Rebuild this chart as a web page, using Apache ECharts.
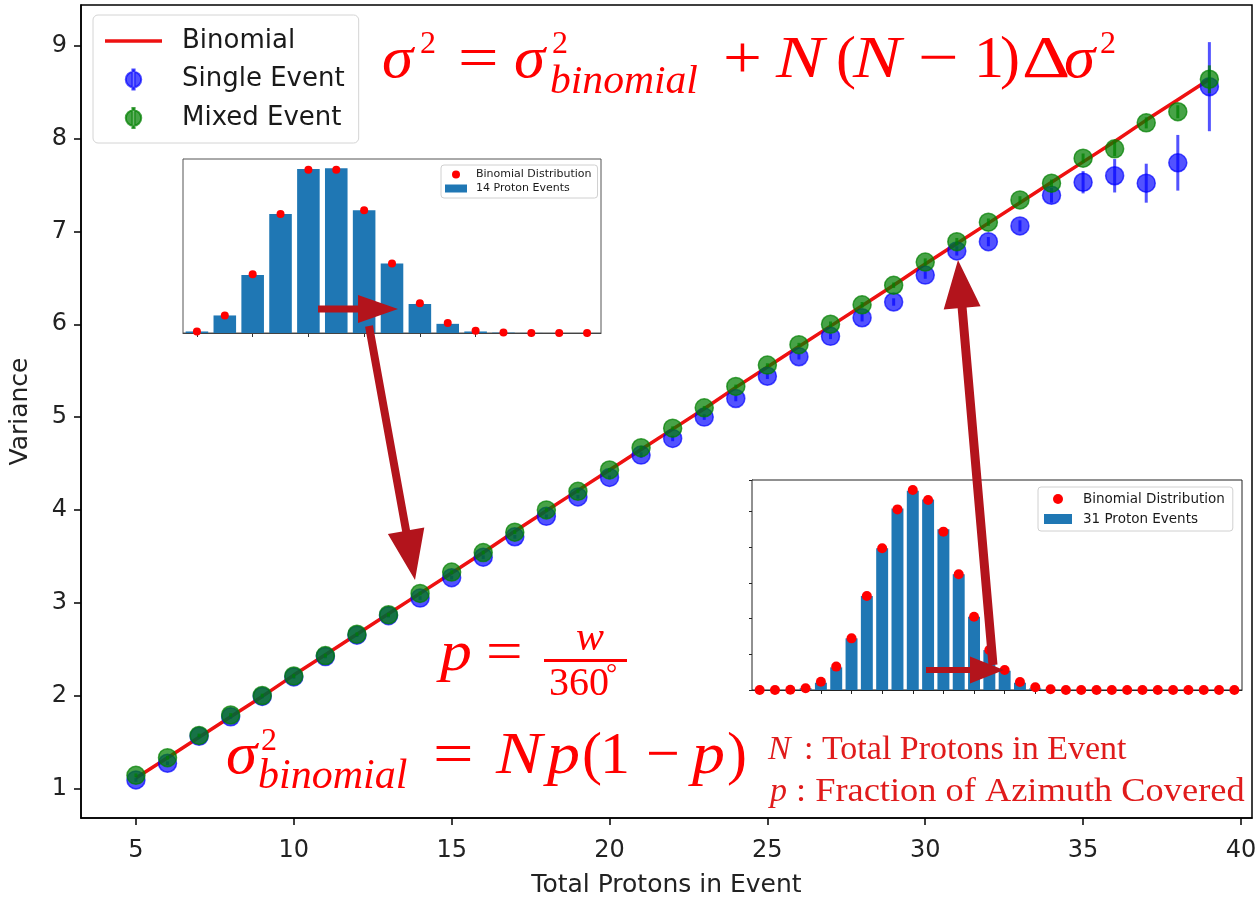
<!DOCTYPE html>
<html><head><meta charset="utf-8">
<script src="https://cdn.jsdelivr.net/npm/echarts@6/dist/echarts.min.js"></script>
<style>html,body{margin:0;padding:0;background:#fff}#c{width:1258px;height:901px}</style>
</head><body><div id="c"></div>
<script>
// ---------- data ----------
const protons = [5,6,7,8,9,10,11,12,13,14,15,16,17,18,19,20,21,22,23,24,25,26,27,28,29,30,31,32,33,34,35,36,37,38,39];
const binomialVar = [1.11,1.33,1.55,1.77,1.99,2.22,2.44,2.66,2.88,3.10,3.32,3.54,3.77,3.99,4.21,4.43,4.65,4.87,5.09,5.32,5.54,5.76,5.98,6.20,6.42,6.65,6.87,7.09,7.31,7.53,7.75,7.97,8.20,8.42,8.64];
const singleVar = [1.09,1.27,1.56,1.77,1.99,2.20,2.42,2.65,2.86,3.05,3.27,3.49,3.71,3.93,4.14,4.35,4.59,4.77,5.00,5.20,5.44,5.65,5.87,6.07,6.24,6.53,6.79,6.89,7.06,7.39,7.53,7.60,7.52,7.74,8.56];
const singleErr = [0.02,0.02,0.02,0.02,0.02,0.02,0.02,0.02,0.02,0.02,0.02,0.02,0.02,0.02,0.02,0.02,0.03,0.03,0.03,0.03,0.03,0.03,0.03,0.04,0.04,0.04,0.05,0.05,0.06,0.08,0.12,0.18,0.21,0.30,0.48];
const mixedVar = [1.14,1.33,1.57,1.79,2.00,2.21,2.43,2.66,2.87,3.10,3.33,3.54,3.76,4.00,4.20,4.43,4.67,4.88,5.10,5.33,5.56,5.78,6.00,6.21,6.42,6.67,6.89,7.10,7.34,7.52,7.79,7.89,8.17,8.29,8.64];
const mixedErr = [0.02,0.02,0.02,0.02,0.02,0.02,0.02,0.02,0.02,0.02,0.02,0.02,0.02,0.02,0.02,0.02,0.02,0.02,0.02,0.02,0.02,0.02,0.03,0.03,0.03,0.04,0.04,0.04,0.04,0.04,0.05,0.08,0.06,0.07,0.15];
const xTicks = [5,10,15,20,25,30,35,40];
const yTicks = [1,2,3,4,5,6,7,8,9];

const bins14 = ['0','1','2','3','4','5','6','7','8','9','10','11','12','13','14'];
const events14 = [0.002,0.023,0.076,0.156,0.215,0.216,0.161,0.091,0.038,0.012,0.002,0.0005,0.0001,0,0];
const binom14 = [0.002,0.023,0.077,0.156,0.214,0.214,0.161,0.091,0.039,0.013,0.003,0.0005,0.0001,0,0];

const bins31 = ['0','1','2','3','4','5','6','7','8','9','10','11','12','13','14','15','16','17','18','19','20','21','22','23','24','25','26','27','28','29','30','31'];
const events31 = [0,0,0,0.0012,0.0051,0.0159,0.0362,0.0659,0.0993,0.1273,0.1397,0.1336,0.1126,0.0811,0.0514,0.0280,0.0135,0.0051,0.0012,0.0002,0,0,0,0,0,0,0,0,0,0,0,0];
const binom31 = [0,0,0.0002,0.0012,0.0058,0.0164,0.0362,0.0659,0.0993,0.1266,0.1402,0.1332,0.1110,0.0811,0.0514,0.0280,0.0140,0.0056,0.0019,0.0005,0,0,0,0,0,0,0,0,0,0,0,0];

// ---------- helpers ----------
const BLUE = 'rgba(0,0,255,0.68)';
const GREEN = 'rgba(0,128,0,0.72)';
const RED = '#ff0000';
const DESC = '#e01b1b';
const ARROW = '#b3141c';
const SANS = '"DejaVu Sans", sans-serif';
const SERIF = '"Liberation Serif", serif';

function errRender(color){
  return function(params, api){
    const x = api.value(0), y = api.value(1), e = api.value(2);
    const p1 = api.coord([x, y - e]), p2 = api.coord([x, y + e]);
    return {type:'line', shape:{x1:p1[0], y1:p1[1], x2:p2[0], y2:p2[1]}, style:{stroke:color, lineWidth:3}};
  };
}
function arrow(x1,y1,x2,y2,sw,hw,hl){
  const dx=x2-x1, dy=y2-y1, L=Math.hypot(dx,dy), ux=dx/L, uy=dy/L, nx=-uy, ny=ux;
  const bx=x2-ux*hl, by=y2-uy*hl;
  const pts=[[x1+nx*sw/2,y1+ny*sw/2],[bx+nx*sw/2,by+ny*sw/2],[bx+nx*hw/2,by+ny*hw/2],[x2,y2],
             [bx-nx*hw/2,by-ny*hw/2],[bx-nx*sw/2,by-ny*sw/2],[x1-nx*sw/2,y1-ny*sw/2]];
  return {type:'polygon', z:120, shape:{points:pts}, style:{fill:ARROW}};
}
function txt(t, x, base, size, italic, color, sx){
  return {type:'text', z:110, x:x, y:base - 0.34*size, scaleX: sx || 1,
    style:{text:t, x:0, y:0, fontSize:size, fontFamily:SERIF, fontStyle: italic ? 'italic' : 'normal',
    fill: color || RED, align:'left', verticalAlign:'middle'}};
}

const graphics = [
  // top formula
  txt('σ',382,82,60,true,RED,1.05), txt('2',420,55,32,false), txt('=',458,82,60,false,RED,1.2),
  txt('σ',514,82,60,true,RED,1.05), txt('2',552,55,32,false), txt('binomial',550,96,40,true,RED,1.04),
  txt('+',723,82,60,false,RED,1.15), txt('N',776,82,60,true,RED,1.2), txt('(',836,82,60,false),
  txt('N',853,82,60,true,RED,1.2), txt('\u2212',918,82,60,false,RED,1.2), txt('1',974,82,60,false),
  txt(')',1000,82,60,false), txt('\u0394',1022,82,60,false,RED,1.25), txt('σ',1064,82,60,true,RED,1.05),
  txt('2',1100,55,32,false),
  // p = w / 360°
  txt('p',440,674,58,true,RED,1.1), txt('=',486,674,58,false,RED,1.12),
  {type:'rect', z:110, shape:{x:544, y:659, width:83, height:3}, style:{fill:RED}},
  txt('w',576,653,42,true), txt('360',549,698,40,false), txt('\u00b0',606,684,28,false),
  // sigma_binomial = Np(1-p)
  txt('σ',226,778,60,true,RED,1.05), txt('2',261,752,32,false), txt('binomial',258,791,42,true),
  txt('=',433,778,60,false,RED,1.2), txt('N',496,778,60,true,RED,1.15), txt('p',547,778,60,true,RED,1.1),
  txt('(',582,778,60,false), txt('1',600,778,60,false), txt('\u2212',646,778,60,false),
  txt('p',692,778,60,true,RED,1.1), txt(')',727,778,60,false),
  // descriptions
  txt('N',768,762,34,true,DESC), txt(': Total Protons in Event',804,762,34,false,DESC),
  txt('p',770,804,34,true,DESC), txt(': Fraction of Azimuth Covered',796,804,34,false,DESC,1.07),
  // arrows
  arrow(318,309,398,309,7,28,40),
  arrow(369,326,415,580,8,37,50),
  arrow(993,665,958,260,9,37,48),
  arrow(926,670,1004,670,6,27,34)
];

const chart = echarts.init(document.getElementById('c'), null, {renderer:'canvas'});
chart.setOption({
  animation:false,
  backgroundColor:'#fff',
  grid:[
    {left:81, top:5, right:6, bottom:83, containLabel:false, outerBoundsMode:'none', show:true, borderColor:'#000', borderWidth:1.5, backgroundColor:'#fff'},
    {left:183, top:159, width:418, height:174, containLabel:false, outerBoundsMode:'none', show:true, borderColor:'#555', borderWidth:1, backgroundColor:'#fff', z:5},
    {left:752, top:480, width:490, height:210, containLabel:false, outerBoundsMode:'none', show:true, borderColor:'#222', borderWidth:1, backgroundColor:'#fff', z:5}
  ],
  xAxis:[
    {gridIndex:0, type:'value', min:3.26, max:40.35,
     name:'Total Protons in Event', nameLocation:'middle', nameGap:55,
     nameTextStyle:{fontSize:25, fontFamily:SANS, color:'#222'},
     axisLine:{lineStyle:{color:'#000', width:1.5}},
     axisTick:{show:true, length:7, lineStyle:{color:'#000', width:1.5}, customValues:xTicks},
     axisLabel:{fontSize:24, fontFamily:SANS, color:'#222', margin:21, customValues:xTicks},
     splitLine:{show:false}},
    {gridIndex:1, type:'category', data:bins14, boundaryGap:true,
     axisLine:{lineStyle:{color:'#333', width:1}},
     axisTick:{show:true, alignWithLabel:true, length:4, interval:function(i){return i%2===0;}, lineStyle:{color:'#333'}},
     axisLabel:{show:false}, splitLine:{show:false}},
    {gridIndex:2, type:'category', data:bins31, boundaryGap:true,
     axisLine:{lineStyle:{color:'#222', width:1}},
     axisTick:{show:true, alignWithLabel:true, length:4, interval:function(i){return i%2===0;}, lineStyle:{color:'#222'}},
     axisLabel:{show:false}, splitLine:{show:false}}
  ],
  yAxis:[
    {gridIndex:0, type:'value', min:0.68, max:9.44,
     name:'Variance', nameLocation:'middle', nameGap:48, nameRotate:90,
     nameTextStyle:{fontSize:25, fontFamily:SANS, color:'#222'},
     axisLine:{show:true, lineStyle:{color:'#000', width:1.5}},
     axisTick:{show:true, length:7, lineStyle:{color:'#000', width:1.5}, customValues:yTicks},
     axisLabel:{fontSize:24, fontFamily:SANS, color:'#222', margin:14, customValues:yTicks},
     splitLine:{show:false}},
    {gridIndex:1, type:'value', min:0, max:0.228,
     axisLine:{show:true, lineStyle:{color:'#cfcfcf', width:1}},
     axisTick:{show:false}, axisLabel:{show:false}, splitLine:{show:false}},
    {gridIndex:2, type:'value', min:0, max:0.1472, interval:0.025,
     axisLine:{show:true, lineStyle:{color:'#222', width:1}},
     axisTick:{show:true, length:3, lineStyle:{color:'#222'}}, axisLabel:{show:false}, splitLine:{show:false}}
  ],
  legend:[
    {orient:'vertical', left:93, top:15, z:20, padding:[13,14,12,12], itemGap:12.5, itemWidth:57, itemHeight:20,
     backgroundColor:'rgba(255,255,255,0.85)', borderColor:'#d4d4d4', borderWidth:1, borderRadius:5,
     textStyle:{fontSize:26, fontFamily:SANS, color:'#1a1a1a', padding:[0,0,0,15]},
     selectedMode:false,
     data:[
       {name:'Binomial', icon:'path://M0,0 H57 V3.5 H0 Z'},
       {name:'Single Event', icon:'path://M0,11 A8.5,8.5 0 1,0 17,11 A8.5,8.5 0 1,0 0,11 Z M7.3,0 H9.7 V22 H7.3 Z'},
       {name:'Mixed Event', icon:'path://M0,11 A8.5,8.5 0 1,0 17,11 A8.5,8.5 0 1,0 0,11 Z M7.3,0 H9.7 V22 H7.3 Z'}
     ]},
    {orient:'vertical', left:441, top:165, z:20, padding:[4,6,4,4], itemGap:3, itemWidth:22, itemHeight:8,
     backgroundColor:'#fff', borderColor:'#d0d0d0', borderWidth:1, borderRadius:3,
     textStyle:{fontSize:11, fontFamily:SANS, color:'#1a1a1a', padding:[0,0,0,4]}, selectedMode:false,
     data:[{name:'Binomial Distribution', icon:'circle'}, {name:'14 Proton Events', icon:'rect'}]},
    {orient:'vertical', left:1038, top:487, z:20, padding:[5,8,5,6], itemGap:6, itemWidth:28, itemHeight:10,
     backgroundColor:'#fff', borderColor:'#d0d0d0', borderWidth:1, borderRadius:3,
     textStyle:{fontSize:13.5, fontFamily:SANS, color:'#1a1a1a', padding:[0,0,0,6]}, selectedMode:false,
     data:[{name:'Binomial Distribution', icon:'circle'}, {name:'31 Proton Events', icon:'rect'}]}
  ],
  series:[
    {name:'Binomial', type:'line', xAxisIndex:0, yAxisIndex:0, z:2,
     data:protons.map((n,i)=>[n, binomialVar[i]]), showSymbol:false, symbol:'none',
     lineStyle:{color:'#ee1111', width:3.5}, itemStyle:{color:'#ee1111'}},
    {name:'Single Event', type:'scatter', xAxisIndex:0, yAxisIndex:0, z:3,
     data:protons.map((n,i)=>[n, singleVar[i]]), symbolSize:18,
     itemStyle:{color:BLUE, borderColor:BLUE, borderWidth:1.5, opacity:1}},
    {name:'Single Event error', type:'custom', xAxisIndex:0, yAxisIndex:0, z:3,
     data:protons.map((n,i)=>[n, singleVar[i], singleErr[i]]), encode:{x:0, y:1},
     renderItem:errRender(BLUE), silent:true},
    {name:'Mixed Event', type:'scatter', xAxisIndex:0, yAxisIndex:0, z:4,
     data:protons.map((n,i)=>[n, mixedVar[i]]), symbolSize:18,
     itemStyle:{color:GREEN, borderColor:GREEN, borderWidth:1.5, opacity:1}},
    {name:'Mixed Event error', type:'custom', xAxisIndex:0, yAxisIndex:0, z:4,
     data:protons.map((n,i)=>[n, mixedVar[i], mixedErr[i]]), encode:{x:0, y:1},
     renderItem:errRender(GREEN), silent:true},
    {name:'14 Proton Events', type:'bar', xAxisIndex:1, yAxisIndex:1, z:6,
     data:events14, barCategoryGap:'19%', itemStyle:{color:'#1f77b4'}},
    {name:'Binomial Distribution', type:'scatter', xAxisIndex:1, yAxisIndex:1, z:7,
     data:binom14, symbolSize:8, itemStyle:{color:RED, opacity:1}},
    {name:'31 Proton Events', type:'bar', xAxisIndex:2, yAxisIndex:2, z:6,
     data:events31, barCategoryGap:'22%', itemStyle:{color:'#1f77b4'}},
    {name:'Binomial Distribution', type:'scatter', xAxisIndex:2, yAxisIndex:2, z:7,
     data:binom31, symbolSize:10, itemStyle:{color:RED, opacity:1}}
  ],
  graphic: graphics
});
</script></body></html>
